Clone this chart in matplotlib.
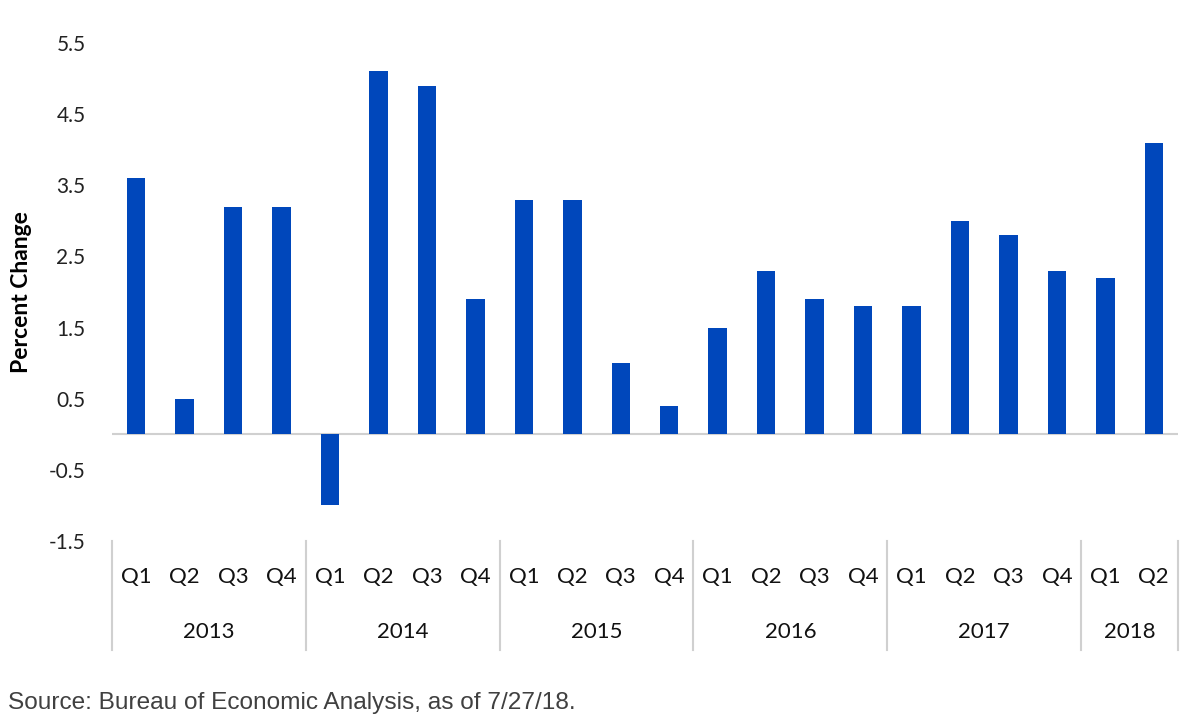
import numpy as np
import matplotlib.pyplot as plt
from matplotlib.transforms import blended_transform_factory

# Real GDP, quarterly percent change
years = ["2013", "2014", "2015", "2016", "2017", "2018"]
quarters_per_year = [4, 4, 4, 4, 4, 2]
quarter_labels = ["Q1", "Q2", "Q3", "Q4"] * 5 + ["Q1", "Q2"]
values = [3.6, 0.5, 3.2, 3.2,
          -1.0, 5.1, 4.9, 1.9,
          3.3, 3.3, 1.0, 0.4,
          1.5, 2.3, 1.9, 1.8,
          1.8, 3.0, 2.8, 2.3,
          2.2, 4.1]
yticks = [-1.5, -0.5, 0.5, 1.5, 2.5, 3.5, 4.5, 5.5]

plt.rcParams["font.family"] = ["Lato", "DejaVu Sans"]

fig = plt.figure(figsize=(12, 7.28), dpi=100)
ax = fig.add_axes([0.0933, 0.2569, 0.8884, 0.684])

x = np.arange(len(values))
ax.bar(x, values, width=0.38, color="#0047BB", zorder=3)

ax.set_xlim(-0.5, len(values) - 0.5)
ax.set_ylim(-1.5, 5.5)
ax.set_yticks(yticks)
ax.set_yticklabels([f"{t:.1f}" for t in yticks], fontsize=15, color="#222222")
ax.tick_params(axis="y", length=0, pad=19)
ax.set_xticks([])
for s in ax.spines.values():
    s.set_visible(False)

ax.axhline(0, color="#D0D0D0", linewidth=1.5, zorder=2)
ax.set_ylabel("Percent Change", fontsize=16.5, fontweight="bold", labelpad=12)

trans = blended_transform_factory(ax.transData, ax.transAxes)
for xi, q in zip(x, quarter_labels):
    ax.text(xi, -0.072, q, transform=trans, ha="center", va="center",
            fontsize=16, color="#111111")

start = 0
bounds = [-0.5]
for yr, n in zip(years, quarters_per_year):
    center = start + (n - 1) / 2
    ax.text(center, -0.183, yr, transform=trans, ha="center", va="center",
            fontsize=16, color="#111111")
    start += n
    bounds.append(start - 0.5)

for b in bounds:
    ax.plot([b, b], [0, -0.219], transform=trans, color="#D0D0D0",
            linewidth=1.5, clip_on=False)

fig.text(0.007, 0.034, "Source: Bureau of Economic Analysis, as of 7/27/18.",
         fontsize=17.6, color="#404040", family=["Liberation Sans", "DejaVu Sans"],
         va="center", ha="left")

fig.savefig("out.png", dpi=100)
